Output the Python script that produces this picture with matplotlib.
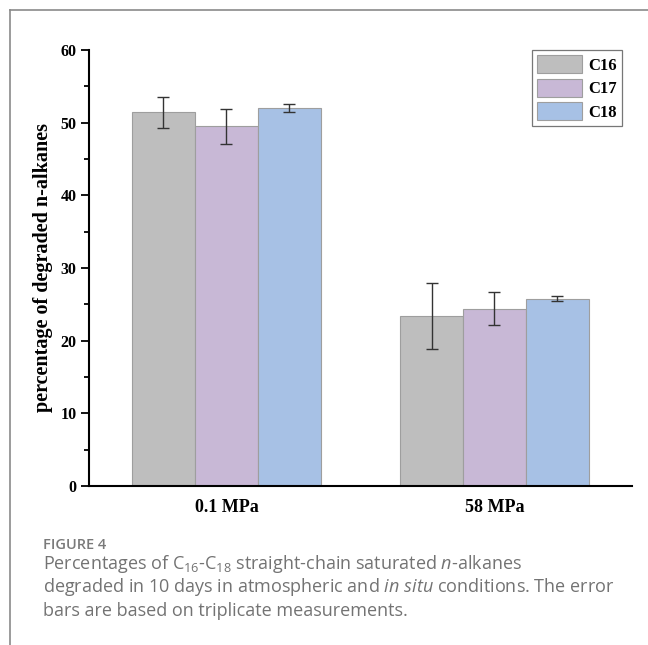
import matplotlib
matplotlib.use("Agg")
import matplotlib.pyplot as plt
import numpy as np
from matplotlib.lines import Line2D
from matplotlib.ticker import MultipleLocator

# Data
groups = ["0.1 MPa", "58 MPa"]
series = ["C16", "C17", "C18"]
means = {
    "C16": [51.4, 23.4],
    "C17": [49.5, 24.4],
    "C18": [52.0, 25.8],
}
errors = {
    "C16": [2.1, 4.6],
    "C17": [2.4, 2.3],
    "C18": [0.6, 0.35],
}
colors = {"C16": "#BEBEBE", "C17": "#C8B8D6", "C18": "#A7C1E5"}

plt.rcParams["mathtext.fontset"] = "custom"
plt.rcParams["mathtext.rm"] = "Open Sans"
plt.rcParams["mathtext.it"] = "Open Sans:italic"
plt.rcParams["mathtext.bf"] = "Open Sans:bold"

serif = "Liberation Serif"

fig = plt.figure(figsize=(6.48, 6.45), dpi=100)
ax = fig.add_axes([0.1373, 0.2465, 0.838, 0.676])

x = np.arange(len(groups))
width = 0.235
for i, s in enumerate(series):
    ax.bar(x + (i - 1) * width, means[s], width, color=colors[s],
           edgecolor="#9E9E9E", linewidth=0.8, label=s, zorder=2)
    ax.errorbar(x + (i - 1) * width, means[s], yerr=errors[s], fmt="none",
                ecolor="#333333", elinewidth=1.0, capsize=4.3, capthick=1.0,
                zorder=3)

ax.set_xlim(-0.513, 1.513)
ax.set_ylim(0, 60)
ax.set_xticks(x)
ax.set_xticklabels(groups, fontfamily=serif, fontweight="bold", fontsize=13)
ax.tick_params(axis="x", length=0, pad=9)
ax.yaxis.set_major_locator(MultipleLocator(10))
ax.yaxis.set_minor_locator(MultipleLocator(5))
ax.tick_params(axis="y", which="major", length=6, width=1.3, direction="out",
               labelsize=11.5, pad=3)
ax.tick_params(axis="y", which="minor", length=3.5, width=1.3, direction="out")
for lab in ax.get_yticklabels():
    lab.set_fontfamily(serif)
    lab.set_fontweight("bold")

for side in ["top", "right"]:
    ax.spines[side].set_visible(False)
for side in ["left", "bottom"]:
    ax.spines[side].set_linewidth(1.5)

ax.set_ylabel("percentage of degraded n-alkanes", fontfamily=serif,
              fontweight="bold", fontsize=14.5, labelpad=5)

leg = ax.legend(loc="upper right", bbox_to_anchor=(0.9594, 0.9225),
                bbox_transform=fig.transFigure, borderaxespad=0,
                prop={"family": serif, "weight": "bold", "size": 12},
                fancybox=False, edgecolor="#777777", framealpha=1,
                handlelength=2.7, handleheight=1.3, labelspacing=0.3,
                handletextpad=0.35, borderpad=0.3)
leg.get_frame().set_linewidth(0.9)

# page border lines
fig.add_artist(Line2D([0.0155, 0.0155], [0.0, 0.984], color="#8A8A8A",
                      linewidth=1.2, transform=fig.transFigure))
fig.add_artist(Line2D([0.0155, 1.0], [0.984, 0.984], color="#8A8A8A",
                      linewidth=1.2, transform=fig.transFigure))

# caption
fig.text(0.066, 1 - 545 / 645, "FIGURE 4", fontfamily="Open Sans",
         fontsize=10.5, fontweight=600, color="#7A7A7A", va="center")
cap_lines = [
    r"Percentages of C$_{\mathrm{16}}$-C$_{\mathrm{18}}$ straight-chain saturated $\mathit{n}$-alkanes",
    r"degraded in 10 days in atmospheric and $\mathit{in\ situ}$ conditions. The error",
    "bars are based on triplicate measurements.",
]
for k, line in enumerate(cap_lines):
    fig.text(0.066, 1 - (564 + 23.5 * k) / 645, line, fontfamily="Open Sans",
             fontsize=13, color="#737373", va="center")

fig.savefig("out.png", dpi=100)
